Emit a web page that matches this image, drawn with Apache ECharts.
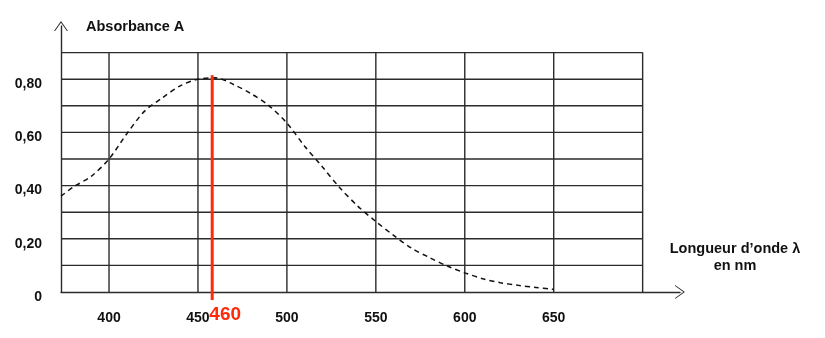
<!DOCTYPE html>
<html>
<head>
<meta charset="utf-8">
<script src="https://cdn.jsdelivr.net/npm/echarts@6/dist/echarts.min.js"></script>
<style>
html,body{margin:0;padding:0;background:#fff;}
#chart{width:825px;height:338px;}
</style>
</head>
<body>
<div id="chart"></div>
<script>
// ---- data ----
const wavelengths = [373, 380, 390, 400, 410, 420, 430, 440, 450, 460, 470, 480, 490, 500, 510, 520, 530, 540, 550, 560, 570, 580, 590, 600, 610, 620, 630, 640, 650];
const absorbance  = [0.36, 0.395, 0.435, 0.50, 0.595, 0.68, 0.73, 0.775, 0.80, 0.805, 0.78, 0.745, 0.70, 0.635, 0.548, 0.47, 0.39, 0.322, 0.265, 0.213, 0.165, 0.13, 0.098, 0.072, 0.05, 0.035, 0.025, 0.017, 0.01];
const xTickLabels = [400, 450, 500, 550, 600, 650];
const yTickLabels = [0, 0.2, 0.4, 0.6, 0.8];
const gridX = [400, 450, 500, 550, 600, 650, 700];
const gridY = [0.1, 0.2, 0.3, 0.4, 0.5, 0.6, 0.7, 0.8, 0.9];
const xRange = [373, 700];
const yRange = [0, 0.9];
const markedWavelength = 458;   // where the red line is drawn in the picture
const markedLabel = '460';
const markedLine = [-0.03, 0.815];

const FONT = "'Liberation Sans', Arial, sans-serif";
const GRID_COLOR = '#2b2b2b';
const RED = '#ff2a0a';
const arrowPath = 'path://M0,70 L50,0 L100,70 L92,70 L50,11 L8,70 Z';

const gridSeries = [];
gridY.forEach(v => gridSeries.push({
  type: 'line', data: [[xRange[0], v], [xRange[1], v]], symbol: 'none', silent: true,
  lineStyle: { color: GRID_COLOR, width: 1.4 }, z: 1, animation: false
}));
gridX.forEach(v => gridSeries.push({
  type: 'line', data: [[v, yRange[0]], [v, yRange[1]]], symbol: 'none', silent: true,
  lineStyle: { color: GRID_COLOR, width: 1.4 }, z: 1, animation: false
}));

const chart = echarts.init(document.getElementById('chart'), null, { renderer: 'canvas' });
chart.setOption({
  animation: false,
  backgroundColor: '#fff',
  grid: { left: 61, right: 145, top: 26, bottom: 46 },
  xAxis: {
    type: 'value', min: 373, max: 721,
    splitLine: { show: false },
    axisTick: { show: false },
    axisLine: { lineStyle: { color: GRID_COLOR, width: 1.4 }, symbol: ['none', arrowPath], symbolSize: [14, 14] },
    axisLabel: { customValues: xTickLabels, margin: 19, color: '#111', fontFamily: FONT, fontWeight: 'bold', fontSize: 14 },
    name: 'Longueur d\u2019onde \u03bb\nen nm',
    nameLocation: 'end', nameGap: 55,
    nameTextStyle: { align: 'center', verticalAlign: 'bottom', lineHeight: 17, padding: [0, 0, 18, 0], color: '#111', fontFamily: FONT, fontWeight: 'bold', fontSize: 14.5 }
  },
  yAxis: {
    type: 'value', min: 0, max: 1.0,
    splitLine: { show: false },
    axisTick: { show: false },
    axisLine: { lineStyle: { color: GRID_COLOR, width: 1.4 }, symbol: ['none', arrowPath], symbolSize: [14, 14] },
    axisLabel: {
      customValues: yTickLabels, margin: 19, color: '#111', fontFamily: FONT, fontWeight: 'bold', fontSize: 14,
      verticalAlign: 'top', lineHeight: 10,
      formatter: v => v === 0 ? '0' : v.toFixed(2).replace('.', ',')
    },
    name: 'Absorbance A',
    nameLocation: 'end', nameGap: -1,
    nameTextStyle: { align: 'left', verticalAlign: 'middle', padding: [0, 0, 0, 25], color: '#111', fontFamily: FONT, fontWeight: 'bold', fontSize: 14.5 }
  },
  series: gridSeries.concat([
    {
      type: 'line', data: wavelengths.map((w, i) => [w, absorbance[i]]),
      smooth: 0.3, symbol: 'none', z: 3,
      lineStyle: { color: '#111', width: 1.5, type: [5, 4] }
    },
    {
      type: 'line', data: markedLine.map(v => [markedWavelength, v]),
      symbol: 'none', clip: false, z: 5,
      lineStyle: { color: RED, width: 3 }
    },
    {
      type: 'scatter', data: [[markedWavelength, markedLine[0]]],
      symbolSize: 0.5, clip: false, z: 6,
      itemStyle: { color: RED, opacity: 1 },
      label: { show: true, position: 'bottom', offset: [13, 0], distance: 5, color: RED, opacity: 1, fontFamily: FONT, fontWeight: 'bold', fontSize: 19, formatter: () => markedLabel }
    }
  ])
});
</script>
</body>
</html>
